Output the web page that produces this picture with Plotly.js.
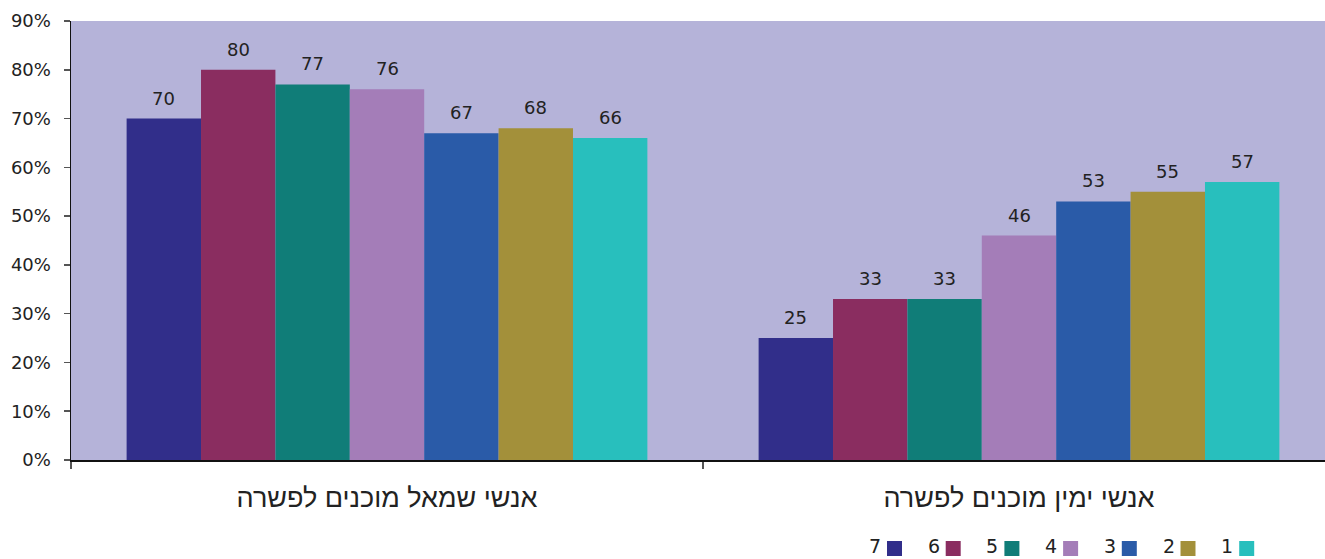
<!DOCTYPE html>
<html>
<head>
<meta charset="utf-8">
<script src="https://cdn.plot.ly/plotly-3.0.1.min.js"></script>
<style>html,body{margin:0;padding:0;background:#fff;}#chart{width:1325px;height:559px;}</style>
</head>
<body>
<div id="chart"></div>
<script>
// ---- data ----
const categories = ["אנשי שמאל מוכנים לפשרה", "אנשי ימין מוכנים לפשרה"];
const seriesNames = ["7", "6", "5", "4", "3", "2", "1"];
const values7 = [70, 25];
const values6 = [80, 33];
const values5 = [77, 33];
const values4 = [76, 46];
const values3 = [67, 53];
const values2 = [68, 55];
const values1 = [66, 57];
const yTickVals = [0, 10, 20, 30, 40, 50, 60, 70, 80, 90];

// ---- styles ----
const colors = ["#312E8A", "#8A2D60", "#107D78", "#A47DB8", "#2A5BA8", "#A3903A", "#28BFBD"];
const seriesValues = [values7, values6, values5, values4, values3, values2, values1];

const W = 1325, H = 559;
const mL = 71, mR = 0, mT = 21, mB = 99;
const plotW = W - mL - mR, plotH = H - mT - mB;
const catPx = 632, bargap = 0.176;
const barPx = catPx * (1 - bargap) / seriesNames.length;
const pxToPaperX = px => (px - mL) / plotW;
const pxToPaperY = py => (H - mB - py) / plotH;

const traces = seriesNames.map((n, i) => ({
  type: 'bar',
  name: n,
  x: categories,
  y: seriesValues[i],
  marker: {color: colors[i], line: {width: 0}},
  hoverinfo: 'skip',
  showlegend: false
}));

const shapes = [];
const annotations = [];

// value labels above bars (positioned through the axes)
seriesNames.forEach((n, i) => {
  categories.forEach((c, j) => {
    annotations.push({
      xref: 'x', yref: 'y', x: c, y: seriesValues[i][j],
      xshift: (i - (seriesNames.length - 1) / 2) * barPx,
      yshift: 8,
      xanchor: 'center', yanchor: 'bottom',
      text: String(seriesValues[i][j]), showarrow: false,
      font: {family: 'DejaVu Sans', size: 18, color: '#222'}
    });
  });
});

// custom legend: number to the left of the square
const legendStart = 887, legendStep = 58.7, sq = 15, sqTop = 541;
seriesNames.forEach((n, i) => {
  const x0 = legendStart + i * legendStep;
  shapes.push({
    type: 'rect', xref: 'paper', yref: 'paper',
    x0: pxToPaperX(x0), x1: pxToPaperX(x0 + sq),
    y0: pxToPaperY(sqTop + sq), y1: pxToPaperY(sqTop),
    fillcolor: colors[i], line: {width: 0}
  });
  annotations.push({
    xref: 'paper', yref: 'paper',
    x: pxToPaperX(x0 - 5), y: pxToPaperY(558),
    xanchor: 'right', yanchor: 'bottom', borderpad: 0,
    text: n, showarrow: false,
    font: {family: 'DejaVu Sans', size: 19, color: '#222'}
  });
});

const layout = {
  width: W, height: H,
  margin: {l: mL, r: mR, t: mT, b: mB, pad: 0},
  paper_bgcolor: '#ffffff',
  plot_bgcolor: '#B5B3D9',
  barmode: 'group',
  bargap: bargap,
  bargroupgap: 0,
  showlegend: false,
  xaxis: {
    type: 'category',
    range: [-0.5, -0.5 + plotW / catPx],
    showline: true, linecolor: '#111', linewidth: 1.5,
    ticks: 'outside', tickson: 'boundaries', ticklen: 7, tickcolor: '#555', tickwidth: 1.5,
    tickfont: {family: 'Liberation Sans', size: 27, color: '#222'},
    ticklabelstandoff: 13,
    showgrid: false, zeroline: false, fixedrange: true
  },
  yaxis: {
    range: [0, 90],
    tickvals: yTickVals,
    ticktext: yTickVals.map(v => v + '%'),
    showline: true, linecolor: '#111', linewidth: 1.5,
    ticks: 'outside', ticklen: 6, tickcolor: '#555', tickwidth: 1.5,
    tickfont: {family: 'DejaVu Sans', size: 18, color: '#222'},
    ticklabelstandoff: 9,
    showgrid: false, zeroline: false, fixedrange: true
  },
  shapes: shapes,
  annotations: annotations
};

Plotly.newPlot('chart', traces, layout, {displayModeBar: false, staticPlot: true});
</script>
</body>
</html>
